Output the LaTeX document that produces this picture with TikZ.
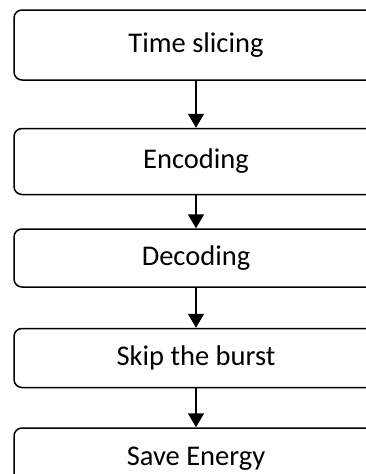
\documentclass[tikz,border=0pt]{standalone}
\usepackage{fontspec}
\setmainfont{Carlito}
\usetikzlibrary{arrows.meta, positioning}

\begin{document}
\begin{tikzpicture}[x=1pt, y=1pt,
    stage/.style={draw, line width=1.5pt, rounded corners=8pt, minimum width=364pt,
        font=\fontsize{28.5}{32}\selectfont},
    flow/.style={-{Triangle[length=14pt, width=16pt]}, line width=1.5pt}]
    \useasboundingbox (0,0) rectangle (366,-474);

    % steps, top to bottom
    \node[stage, minimum height=70pt] (slice) at (196,-45) {Time slicing};
    \node[stage, minimum height=66pt, below=47pt of slice] (encode) {Encoding};
    \node[stage, minimum height=58pt, below=33pt of encode] (decode) {Decoding};
    \node[stage, minimum height=59pt, below=40pt of decode] (skip) {Skip the burst};
    \node[stage, minimum height=62pt, below=39pt of skip] (save) {Save Energy};

    \draw[flow] (slice) -- (encode);
    \draw[flow] (encode) -- (decode);
    \draw[flow] (decode) -- (skip);
    \draw[flow] (skip) -- (save);
\end{tikzpicture}
\end{document}
